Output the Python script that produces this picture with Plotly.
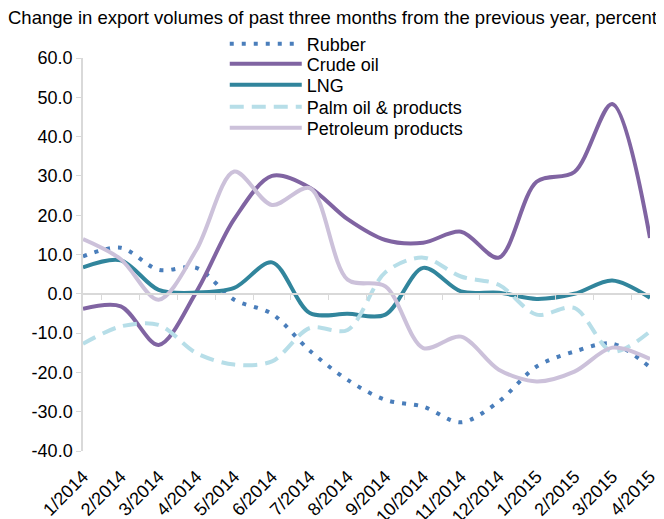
import plotly.graph_objects as go

months = ["1/2014", "2/2014", "3/2014", "4/2014", "5/2014", "6/2014", "7/2014", "8/2014",
          "9/2014", "10/2014", "11/2014", "12/2014", "1/2015", "2/2015", "3/2015", "4/2015"]

rubber = [9.5, 11.7, 6.1, 6.6, -1.5, -5.1, -14.5, -21.9, -27.0, -28.7, -32.7, -27.4, -18.5, -14.7, -12.7, -18.7]
crude_oil = [-3.8, -3.2, -13.0, 0.5, 19.0, 30.0, 27.0, 19.0, 13.7, 13.0, 15.8, 9.2, 28.5, 31.0, 48.3, 14.2]
lng = [6.7, 8.5, 1.0, 0.3, 1.5, 8.0, -4.9, -5.1, -5.3, 6.6, 0.6, 0.3, -1.3, 0.0, 3.4, -1.0]
palm_oil = [-12.7, -8.3, -7.9, -15.1, -18.0, -17.2, -8.7, -9.2, 5.5, 9.2, 4.4, 2.3, -5.3, -3.6, -14.7, -9.6]
petroleum = [13.9, 8.8, -1.5, 11.2, 31.1, 22.6, 26.9, 3.6, 1.9, -13.8, -10.9, -19.3, -22.3, -19.8, -13.7, -16.6]

y_ticks = [-40, -30, -20, -10, 0, 10, 20, 30, 40, 50, 60]

series = [
    ("Rubber", rubber, "#4a7ebb", "4px,8px"),
    ("Crude oil", crude_oil, "#8064a2", "solid"),
    ("LNG", lng, "#31859c", "solid"),
    ("Palm oil & products", palm_oil, "#b7dee8", "14px,8px"),
    ("Petroleum products", petroleum, "#ccc1da", "solid"),
]

# one small legend per series so the rows can sit as tight as in the original
legend_rows = [1.0356, 0.9847, 0.9313, 0.8753, 0.8219]

fig = go.Figure()
layout_legends = {}
for i, (name, vals, color, dash) in enumerate(series):
    key = "legend" if i == 0 else f"legend{i + 1}"
    fig.add_trace(go.Scatter(
        x=months, y=vals, name=name, mode="lines", legend=key,
        line=dict(color=color, width=4, dash=dash, shape="spline", smoothing=0.9),
    ))
    layout_legends[key] = dict(
        x=0.25, xanchor="left", y=legend_rows[i], yanchor="middle",
        bgcolor="rgba(0,0,0,0)", font=dict(size=18, color="#000000"),
        itemwidth=72, borderwidth=0,
    )

# invisible trace so the zero-line tick axis gets drawn
fig.add_trace(go.Scatter(x=months, y=[0] * len(months), xaxis="x2", mode="lines",
                         line=dict(width=0), opacity=0, showlegend=False, hoverinfo="skip"))

font = "Liberation Sans, Arial, sans-serif"
fig.update_layout(
    width=656, height=511,
    margin=dict(l=75, r=14, t=50, b=68),
    paper_bgcolor="white", plot_bgcolor="white",
    font=dict(family=font, size=17, color="#000000"),
    title=dict(text="Change in export volumes of past three months from the previous year, percent",
               xref="container", x=0, xanchor="left",
               yref="container", y=1 - 10 / 511, yanchor="middle",
               font=dict(size=18.5, color="#000000")),
    showlegend=True,
    # transparent ticks push the rotated labels down a little, as in the original
    xaxis=dict(showgrid=False, showline=False, zeroline=False,
               ticks="outside", ticklen=7, tickcolor="rgba(0,0,0,0)",
               tickangle=-45, tickfont=dict(size=18), automargin=False),
    xaxis2=dict(overlaying="x", anchor="free", position=0.4, matches="x",
                showgrid=False, showline=True, linecolor="#d9d9d9", linewidth=1.5,
                ticks="outside", tickson="boundaries", ticklen=5, tickcolor="#d9d9d9",
                showticklabels=False, zeroline=False),
    yaxis=dict(range=[-40, 60], tickvals=y_ticks, ticktext=[f"{v:.1f}" for v in y_ticks],
               showgrid=False, showline=True, linecolor="#d9d9d9", linewidth=1.5,
               ticks="outside", ticklen=5, tickcolor="#d9d9d9",
               zeroline=False, tickfont=dict(size=18), automargin=False),
    **layout_legends,
)

fig.write_html("out.html")
